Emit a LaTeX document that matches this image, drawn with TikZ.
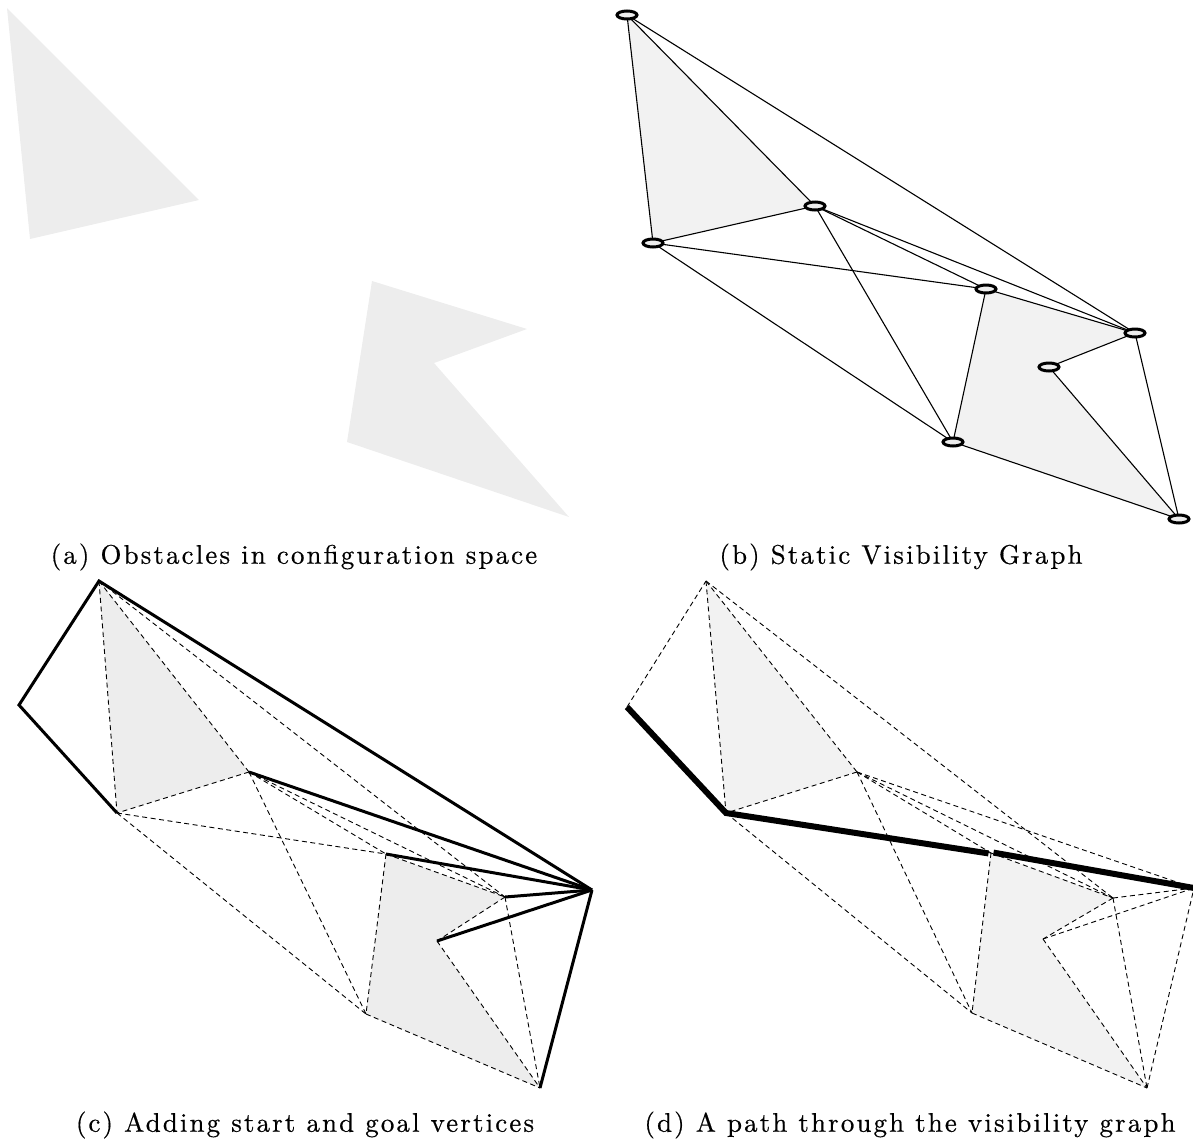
\documentclass[tikz,border=0pt]{standalone}
\usepackage{fontspec}
\usetikzlibrary{shapes.geometric}
\newfontfamily\capfamily[LetterSpace=8,FakeBold=0.5]{lmroman10-regular.otf}
\newcommand\captionfont{\capfamily\fontsize{27}{31}\selectfont}
\tikzset{
  obsA/.style={fill=black!7, draw=none},
  obsB/.style={fill=black!5, draw=none},
  visedge/.style={draw=black, line width=1.1bp},
  dashedge/.style={draw=black, line width=0.9bp, dash pattern=on 5bp off 3.5bp},
  startgoal/.style={draw=black, line width=3bp, line join=miter},
  route/.style={draw=black, line width=6bp, line join=miter},
  vtx/.style={ellipse, draw=black, fill=black!7, line width=3bp, inner sep=0pt,
              minimum width=20bp, minimum height=8bp},
  captext/.style={inner sep=0pt, font=\captionfont}
}
\begin{document}
\begin{tikzpicture}[x=1bp, y=-1bp]
\useasboundingbox (0,0) rectangle (1193,1148);

% ---------- (a) obstacles ----------
\coordinate (a1) at (7,8);
\coordinate (a2) at (199,200);
\coordinate (a3) at (30,239);
\coordinate (a4) at (372,281);
\coordinate (a5) at (527,329);
\coordinate (a6) at (434,363);
\coordinate (a8) at (569,517);
\coordinate (a7) at (347,442);
\fill[obsA] (a1) -- (a2) -- (a3) -- cycle;
\fill[obsA] (a4) -- (a5) -- (a6) -- (a8) -- (a7) -- cycle;
\node[captext] (capa) at (294,557) {(a) Obstacles in configuration space};

% ---------- (b) static visibility graph ----------
\coordinate (b1) at (627,15);
\coordinate (b2) at (815,206);
\coordinate (b3) at (653,243);
\coordinate (b4) at (986,289);
\coordinate (b5) at (1135,333);
\coordinate (b6) at (1049,367);
\coordinate (b7) at (953,442);
\coordinate (b8) at (1179,519);
\fill[obsB] (b1) -- (b2) -- (b3) -- cycle;
\fill[obsB] (b4) -- (b5) -- (b6) -- (b8) -- (b7) -- cycle;
\foreach \u/\v in {1/2,1/3,1/5,2/3,2/4,2/5,2/7,3/4,3/7,4/5,4/7,5/6,5/8,6/8,7/8}
  \draw[visedge] (b\u) -- (b\v);
\foreach \i in {1,...,8}
  \node[vtx] (vb\i) at (b\i) {};
\node[captext] (capb) at (901,557) {(b) Static Visibility Graph};

% ---------- (c) start and goal added ----------
\coordinate (c1) at (99,581);
\coordinate (c2) at (249,772);
\coordinate (c3) at (117,813);
\coordinate (c4) at (386,854);
\coordinate (c5) at (505,897);
\coordinate (c6) at (437,941);
\coordinate (c7) at (366,1014);
\coordinate (c8) at (540,1088);
\coordinate (cs) at (19,705);
\coordinate (cg) at (592,890);
\fill[obsA] (c1) -- (c2) -- (c3) -- cycle;
\fill[obsA] (c4) -- (c5) -- (c6) -- (c8) -- (c7) -- cycle;
\foreach \u/\v in {1/2,1/3,1/5,2/3,2/4,2/5,2/7,3/4,3/7,4/5,4/7,5/6,5/8,6/8,7/8}
  \draw[dashedge] (c\u) -- (c\v);
\draw[startgoal] (c3) -- (cs) -- (c1) -- (cg);
\foreach \v in {2,4,5,6,8}
  \draw[startgoal] (c\v) -- (cg);
\node[captext] (capc) at (305,1125) {(c) Adding start and goal vertices};

% ---------- (d) path through the graph ----------
\coordinate (d1) at (706,581);
\coordinate (d2) at (857,772);
\coordinate (d3) at (726,813);
\coordinate (d4) at (991,853);
\coordinate (d5) at (1113,898);
\coordinate (d6) at (1043,939);
\coordinate (d7) at (972,1013);
\coordinate (d8) at (1147,1088);
\coordinate (ds) at (627,707);
\coordinate (dg) at (1194,888);
\fill[obsB] (d1) -- (d2) -- (d3) -- cycle;
\fill[obsB] (d4) -- (d5) -- (d6) -- (d8) -- (d7) -- cycle;
\foreach \u/\v in {1/2,1/3,1/5,2/3,2/4,2/5,2/7,3/4,3/7,4/5,4/7,5/6,5/8,6/8,7/8}
  \draw[dashedge] (d\u) -- (d\v);
\draw[dashedge] (ds) -- (d1);
\foreach \v in {2,5,6,8}
  \draw[dashedge] (d\v) -- (dg);
\draw[route] (ds) -- (d3) -- ([xshift=-2.5bp,yshift=-0.4bp]d4);
\draw[route] ([xshift=2.5bp,yshift=0.4bp]d4) -- (dg);
\node[captext] (capd) at (910,1125) {(d) A path through the visibility graph};
\end{tikzpicture}
\end{document}
